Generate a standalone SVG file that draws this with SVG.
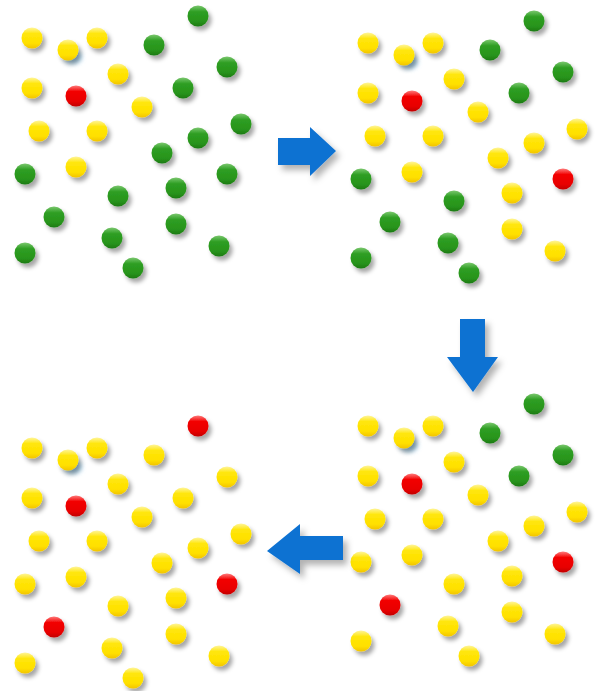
<svg xmlns="http://www.w3.org/2000/svg" xmlns:xlink="http://www.w3.org/1999/xlink" width="596" height="691" viewBox="0 0 596 691">
  <defs>
    <linearGradient id="gY" x1="0" y1="0" x2="0" y2="1">
      <stop offset="0" stop-color="#fff59a"/>
      <stop offset="0.3" stop-color="#ffe60a"/>
      <stop offset="0.75" stop-color="#ffe000"/>
      <stop offset="1" stop-color="#f2c400"/>
    </linearGradient>
    <linearGradient id="gG" x1="0" y1="0" x2="0" y2="1">
      <stop offset="0" stop-color="#7cc870"/>
      <stop offset="0.3" stop-color="#2e9e22"/>
      <stop offset="0.75" stop-color="#28941c"/>
      <stop offset="1" stop-color="#1d7a12"/>
    </linearGradient>
    <linearGradient id="gR" x1="0" y1="0" x2="0" y2="1">
      <stop offset="0" stop-color="#ff7a7a"/>
      <stop offset="0.3" stop-color="#f20000"/>
      <stop offset="0.75" stop-color="#e80000"/>
      <stop offset="1" stop-color="#c20000"/>
    </linearGradient>
    <filter id="shadow" x="-30%" y="-30%" width="170%" height="170%">
      <feDropShadow dx="3" dy="4" stdDeviation="2.2" flood-color="#000" flood-opacity="0.35"/>
    </filter>
    <filter id="arrowShadow" x="-30%" y="-30%" width="170%" height="170%">
      <feDropShadow dx="4" dy="5" stdDeviation="3" flood-color="#000" flood-opacity="0.3"/>
    </filter>
    <filter id="glowBlur" x="-50%" y="-50%" width="200%" height="200%">
      <feGaussianBlur stdDeviation="2.5"/>
    </filter>
    <style>
      .y { fill: url(#gY); }
      .g { fill: url(#gG); }
      .r { fill: url(#gR); }
      .balls circle { r: 10.5px; }
      .glow { fill: #9fd4f5; opacity: 0.8; filter: url(#glowBlur); }
      .arrow { fill: #0d72d2; filter: url(#arrowShadow); }
    </style>
  </defs>

  <!-- Panel 1: mostly green -->
  <g id="panel1" transform="translate(0,0)">
    <ellipse class="glow" cx="73" cy="57" rx="9" ry="7"/>
    <g class="balls" filter="url(#shadow)">
      <circle class="y" cx="32" cy="38" r="10.5"/>
      <circle class="y" cx="68" cy="50" r="10.5"/>
      <circle class="y" cx="97" cy="38" r="10.5"/>
      <circle class="g" cx="198" cy="16" r="10.5"/>
      <circle class="g" cx="154" cy="45" r="10.5"/>
      <circle class="g" cx="227" cy="67" r="10.5"/>
      <circle class="y" cx="118" cy="74" r="10.5"/>
      <circle class="y" cx="32" cy="88" r="10.5"/>
      <circle class="r" cx="76" cy="96" r="10.5"/>
      <circle class="g" cx="183" cy="88" r="10.5"/>
      <circle class="y" cx="142" cy="107" r="10.5"/>
      <circle class="g" cx="241" cy="124" r="10.5"/>
      <circle class="y" cx="39" cy="131" r="10.5"/>
      <circle class="y" cx="97" cy="131" r="10.5"/>
      <circle class="g" cx="198" cy="138" r="10.5"/>
      <circle class="g" cx="162" cy="153" r="10.5"/>
      <circle class="y" cx="76" cy="167" r="10.5"/>
      <circle class="g" cx="25" cy="174" r="10.5"/>
      <circle class="g" cx="227" cy="174" r="10.5"/>
      <circle class="g" cx="176" cy="188" r="10.5"/>
      <circle class="g" cx="118" cy="196" r="10.5"/>
      <circle class="g" cx="54" cy="217" r="10.5"/>
      <circle class="g" cx="176" cy="224" r="10.5"/>
      <circle class="g" cx="112" cy="238" r="10.5"/>
      <circle class="g" cx="219" cy="246" r="10.5"/>
      <circle class="g" cx="25" cy="253" r="10.5"/>
      <circle class="g" cx="133" cy="268" r="10.5"/>
    </g>
  </g>

  <!-- Panel 2 -->
  <g id="panel2" transform="translate(336,5)">
    <ellipse class="glow" cx="73" cy="57" rx="9" ry="7"/>
    <g class="balls" filter="url(#shadow)">
      <circle class="y" cx="32" cy="38" r="10.5"/>
      <circle class="y" cx="68" cy="50" r="10.5"/>
      <circle class="y" cx="97" cy="38" r="10.5"/>
      <circle class="g" cx="198" cy="16" r="10.5"/>
      <circle class="g" cx="154" cy="45" r="10.5"/>
      <circle class="g" cx="227" cy="67" r="10.5"/>
      <circle class="y" cx="118" cy="74" r="10.5"/>
      <circle class="y" cx="32" cy="88" r="10.5"/>
      <circle class="r" cx="76" cy="96" r="10.5"/>
      <circle class="g" cx="183" cy="88" r="10.5"/>
      <circle class="y" cx="142" cy="107" r="10.5"/>
      <circle class="y" cx="241" cy="124" r="10.5"/>
      <circle class="y" cx="39" cy="131" r="10.5"/>
      <circle class="y" cx="97" cy="131" r="10.5"/>
      <circle class="y" cx="198" cy="138" r="10.5"/>
      <circle class="y" cx="162" cy="153" r="10.5"/>
      <circle class="y" cx="76" cy="167" r="10.5"/>
      <circle class="g" cx="25" cy="174" r="10.5"/>
      <circle class="r" cx="227" cy="174" r="10.5"/>
      <circle class="y" cx="176" cy="188" r="10.5"/>
      <circle class="g" cx="118" cy="196" r="10.5"/>
      <circle class="g" cx="54" cy="217" r="10.5"/>
      <circle class="y" cx="176" cy="224" r="10.5"/>
      <circle class="g" cx="112" cy="238" r="10.5"/>
      <circle class="y" cx="219" cy="246" r="10.5"/>
      <circle class="g" cx="25" cy="253" r="10.5"/>
      <circle class="g" cx="133" cy="268" r="10.5"/>
    </g>
  </g>

  <!-- Panel 3 -->
  <g id="panel3" transform="translate(336,388)">
    <ellipse class="glow" cx="73" cy="57" rx="9" ry="7"/>
    <g class="balls" filter="url(#shadow)">
      <circle class="y" cx="32" cy="38" r="10.5"/>
      <circle class="y" cx="68" cy="50" r="10.5"/>
      <circle class="y" cx="97" cy="38" r="10.5"/>
      <circle class="g" cx="198" cy="16" r="10.5"/>
      <circle class="g" cx="154" cy="45" r="10.5"/>
      <circle class="g" cx="227" cy="67" r="10.5"/>
      <circle class="y" cx="118" cy="74" r="10.5"/>
      <circle class="y" cx="32" cy="88" r="10.5"/>
      <circle class="r" cx="76" cy="96" r="10.5"/>
      <circle class="g" cx="183" cy="88" r="10.5"/>
      <circle class="y" cx="142" cy="107" r="10.5"/>
      <circle class="y" cx="241" cy="124" r="10.5"/>
      <circle class="y" cx="39" cy="131" r="10.5"/>
      <circle class="y" cx="97" cy="131" r="10.5"/>
      <circle class="y" cx="198" cy="138" r="10.5"/>
      <circle class="y" cx="162" cy="153" r="10.5"/>
      <circle class="y" cx="76" cy="167" r="10.5"/>
      <circle class="y" cx="25" cy="174" r="10.5"/>
      <circle class="r" cx="227" cy="174" r="10.5"/>
      <circle class="y" cx="176" cy="188" r="10.5"/>
      <circle class="y" cx="118" cy="196" r="10.5"/>
      <circle class="r" cx="54" cy="217" r="10.5"/>
      <circle class="y" cx="176" cy="224" r="10.5"/>
      <circle class="y" cx="112" cy="238" r="10.5"/>
      <circle class="y" cx="219" cy="246" r="10.5"/>
      <circle class="y" cx="25" cy="253" r="10.5"/>
      <circle class="y" cx="133" cy="268" r="10.5"/>
    </g>
  </g>

  <!-- Panel 4: no green left -->
  <g id="panel4" transform="translate(0,410)">
    <ellipse class="glow" cx="73" cy="57" rx="9" ry="7"/>
    <g class="balls" filter="url(#shadow)">
      <circle class="y" cx="32" cy="38" r="10.5"/>
      <circle class="y" cx="68" cy="50" r="10.5"/>
      <circle class="y" cx="97" cy="38" r="10.5"/>
      <circle class="r" cx="198" cy="16" r="10.5"/>
      <circle class="y" cx="154" cy="45" r="10.5"/>
      <circle class="y" cx="227" cy="67" r="10.5"/>
      <circle class="y" cx="118" cy="74" r="10.5"/>
      <circle class="y" cx="32" cy="88" r="10.5"/>
      <circle class="r" cx="76" cy="96" r="10.5"/>
      <circle class="y" cx="183" cy="88" r="10.5"/>
      <circle class="y" cx="142" cy="107" r="10.5"/>
      <circle class="y" cx="241" cy="124" r="10.5"/>
      <circle class="y" cx="39" cy="131" r="10.5"/>
      <circle class="y" cx="97" cy="131" r="10.5"/>
      <circle class="y" cx="198" cy="138" r="10.5"/>
      <circle class="y" cx="162" cy="153" r="10.5"/>
      <circle class="y" cx="76" cy="167" r="10.5"/>
      <circle class="y" cx="25" cy="174" r="10.5"/>
      <circle class="r" cx="227" cy="174" r="10.5"/>
      <circle class="y" cx="176" cy="188" r="10.5"/>
      <circle class="y" cx="118" cy="196" r="10.5"/>
      <circle class="r" cx="54" cy="217" r="10.5"/>
      <circle class="y" cx="176" cy="224" r="10.5"/>
      <circle class="y" cx="112" cy="238" r="10.5"/>
      <circle class="y" cx="219" cy="246" r="10.5"/>
      <circle class="y" cx="25" cy="253" r="10.5"/>
      <circle class="y" cx="133" cy="268" r="10.5"/>
    </g>
  </g>

  <!-- Step arrows -->
  <g id="arrows">
    <polygon class="arrow" points="278,138 310,138 310,127 336,151 310,176 310,165 278,165"/>
    <polygon class="arrow" points="460,319 485,319 485,357 498,357 473,392 447,357 460,357"/>
    <polygon class="arrow" points="343,536 300,536 300,524 267,551 300,574 300,560 343,560"/>
  </g>
</svg>
